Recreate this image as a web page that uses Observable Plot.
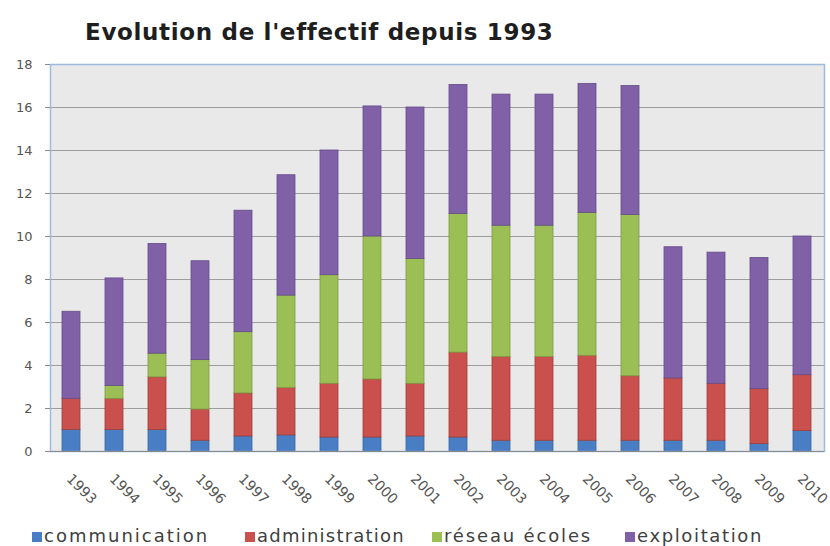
<!DOCTYPE html>
<html>
<head>
<meta charset="utf-8">
<script src="https://cdn.jsdelivr.net/npm/d3@7"></script>
<script src="https://cdn.jsdelivr.net/npm/@observablehq/plot@0.6"></script>
<style>
  html, body { margin: 0; padding: 0; background: #fff; }
  #wrap { position: relative; width: 830px; height: 546px; overflow: hidden; }
  #title { position: absolute; left: 85px; top: 19px; font-family: "DejaVu Sans", sans-serif; font-weight: 700; font-size: 23px; line-height: 26px; color: #1e1e1e; white-space: nowrap; }
  #chart { position: absolute; left: 0; top: 0; }
  .leg { position: absolute; top: 527px; font-family: "DejaVu Sans", sans-serif; font-size: 18px; line-height: 18px; height: 18px; color: #404040; white-space: nowrap; }
  .sw { position: absolute; top: 532px; width: 10px; height: 10px; }
</style>
</head>
<body>
<div id="wrap">
  <div id="chart"></div>
  <div id="title">Evolution de l'effectif depuis 1993</div>
</div>
<script>
const years = ["1993","1994","1995","1996","1997","1998","1999","2000","2001","2002","2003","2004","2005","2006","2007","2008","2009","2010"];
const seriesNames = ["communication", "administration", "réseau écoles", "exploitation"];
const communication = [1, 1, 1, 0.5, 0.7, 0.75, 0.65, 0.65, 0.7, 0.65, 0.5, 0.5, 0.5, 0.5, 0.5, 0.5, 0.35, 0.95];
const administration = [1.45, 1.45, 2.45, 1.45, 2.0, 2.2, 2.5, 2.7, 2.45, 3.95, 3.9, 3.9, 3.95, 3.0, 2.9, 2.65, 2.55, 2.6];
const reseauEcoles = [0, 0.6, 1.1, 2.3, 2.85, 4.3, 5.05, 6.65, 5.8, 6.45, 6.1, 6.1, 6.65, 7.5, 0, 0, 0, 0];
const exploitation = [4.05, 5.0, 5.1, 4.6, 5.65, 5.6, 5.8, 6.05, 7.05, 6.0, 6.1, 6.1, 6.0, 6.0, 6.1, 6.1, 6.1, 6.45];
const yTicks = [0, 2, 4, 6, 8, 10, 12, 14, 16, 18];

// styling / layout (not data)
const colors = ["#4a7ec4", "#c9504c", "#9bbf55", "#8061a8"];
const strokes = ["#3a679f", "#a23e3b", "#7d9b44", "#654c88"];
const legTextX = [44, 257, 444, 637];
const legTextW = [168, 148, 148, 126];
const titleW = 467;

const seriesValues = [communication, administration, reseauEcoles, exploitation];
const data = [];
years.forEach((yr, i) => {
  seriesNames.forEach((s, k) => {
    data.push({year: yr, series: s, value: seriesValues[k][i]});
  });
});

const font = "'DejaVu Sans', sans-serif";
const chart = Plot.plot({
  width: 830,
  height: 512,
  marginTop: 64,
  marginLeft: 50,
  marginRight: 6,
  marginBottom: 61,
  style: { fontFamily: font, fontSize: "13px", color: "#555", background: "transparent" },
  x: { domain: years, paddingInner: 0.58, paddingOuter: 0.29, axis: null },
  y: { domain: [0, 18], axis: null },
  color: { domain: seriesNames, range: colors },
  marks: [
    Plot.frame({ fill: "#e9e9e9", stroke: "none" }),
    Plot.gridY(yTicks.slice(1), { stroke: "#8a8a8a", strokeOpacity: 0.8, strokeWidth: 1 }),
    Plot.barY(data, {
      x: "year", y: "value", fill: "series",
      stroke: d => strokes[seriesNames.indexOf(d.series)],
      strokeWidth: 0.8, order: seriesNames, inset: 0
    }),
    Plot.frame({ stroke: "#9dbbe0", strokeWidth: 1.5 }),
    Plot.ruleY([0], { stroke: "#8a8a8a", strokeWidth: 1.2 }),
    Plot.axisY(yTicks, { label: null, tickSize: 5, tickPadding: 13, fontSize: 13, fill: "#555", stroke: "#8a8a8a" }),
    Plot.axisX(years, { label: null, tickSize: 0, tickPadding: 0, tickRotate: 45, textAnchor: "start", dx: -2.5, dy: 25, fontSize: 14, fill: "#555" })
  ]
});
document.getElementById("chart").appendChild(chart);

// fit text widths
const canvas = document.createElement("canvas");
const ctx = canvas.getContext("2d");
function fitSpacing(el, text, fontSpec, target) {
  ctx.font = fontSpec;
  const w = ctx.measureText(text).width;
  const ls = Math.max(-1, Math.min(2, (target - w) / text.length));
  el.style.letterSpacing = ls.toFixed(2) + "px";
}
const title = document.getElementById("title");
fitSpacing(title, title.textContent, "700 23px 'DejaVu Sans'", titleW);

const wrap = document.getElementById("wrap");
seriesNames.forEach((s, k) => {
  const sw = document.createElement("div");
  sw.className = "sw";
  sw.style.left = (legTextX[k] - 12) + "px";
  sw.style.background = colors[k];
  wrap.appendChild(sw);
  const el = document.createElement("div");
  el.className = "leg";
  el.style.left = legTextX[k] + "px";
  el.textContent = s;
  fitSpacing(el, s, "18px 'DejaVu Sans'", legTextW[k]);
  wrap.appendChild(el);
});
</script>
</body>
</html>
